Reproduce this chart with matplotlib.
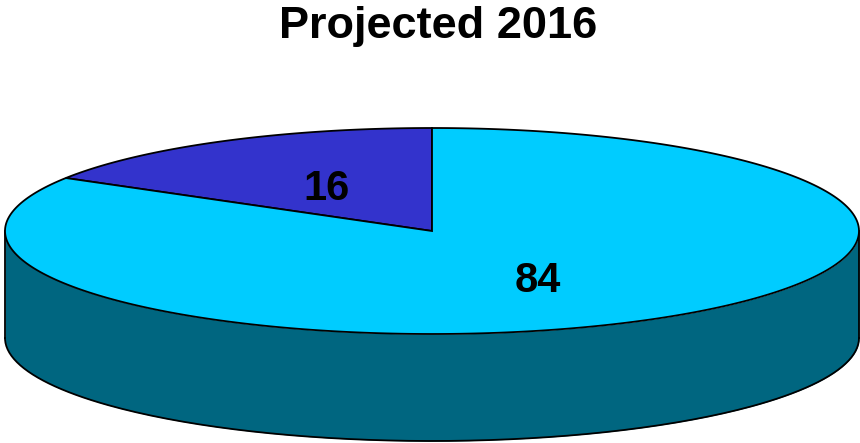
import numpy as np
import matplotlib
matplotlib.use('Agg')
import matplotlib.pyplot as plt

title = 'Projected 2016'
labels = ['16', '84']
values = [16.4, 83.6]
colours = ['#3333CC', '#00CCFF']
side_colour = '#006680'

# ellipse geometry in picture pixels
W, H = 860, 443
cx, cy = 432, 231
rx, ry = 427, 103
depth = 107
edge = 1.3

fig = plt.figure(figsize=(W / 100, H / 100), dpi=100)
ax = fig.add_axes([0, 0, 1, 1])
ax.set_xlim(0, W)
ax.set_ylim(H, 0)
ax.axis('off')

# side wall, front half of the ellipse only
t = np.linspace(0, np.pi, 200)
x_side = cx + rx * np.cos(t)
y_side = cy + ry * np.sin(t)
ax.fill_between(x_side, y_side, y_side + depth, color=side_colour, lw=0, zorder=1)
ax.plot(x_side, y_side + depth, color='black', lw=edge, zorder=2)
ax.plot([cx - rx, cx - rx], [cy, cy + depth], color='black', lw=edge, zorder=2)
ax.plot([cx + rx, cx + rx], [cy, cy + depth], color='black', lw=edge, zorder=2)

# top face, slices run counter clockwise from 12 o'clock
start = 90.0
total = sum(values)
for val, col in zip(values, colours):
    end = start + 360.0 * val / total
    a = np.radians(np.linspace(start, end, 300))
    xs = np.r_[cx, cx + rx * np.cos(a), cx]
    ys = np.r_[cy, cy - ry * np.sin(a), cy]
    ax.fill(xs, ys, facecolor=col, edgecolor='black', lw=edge, zorder=3)
    start = end

ax.text(326, 189, labels[0], ha='center', va='center', fontsize=30, fontweight='bold',
        family='Liberation Sans', color='black', zorder=4)
ax.text(538, 281, labels[1], ha='center', va='center', fontsize=30, fontweight='bold',
        family='Liberation Sans', color='black', zorder=4)
ax.text(438, 26, title, ha='center', va='center', fontsize=32.5, fontweight='bold',
        family='Liberation Sans', color='black', zorder=4)

fig.savefig('out.png', dpi=100)
